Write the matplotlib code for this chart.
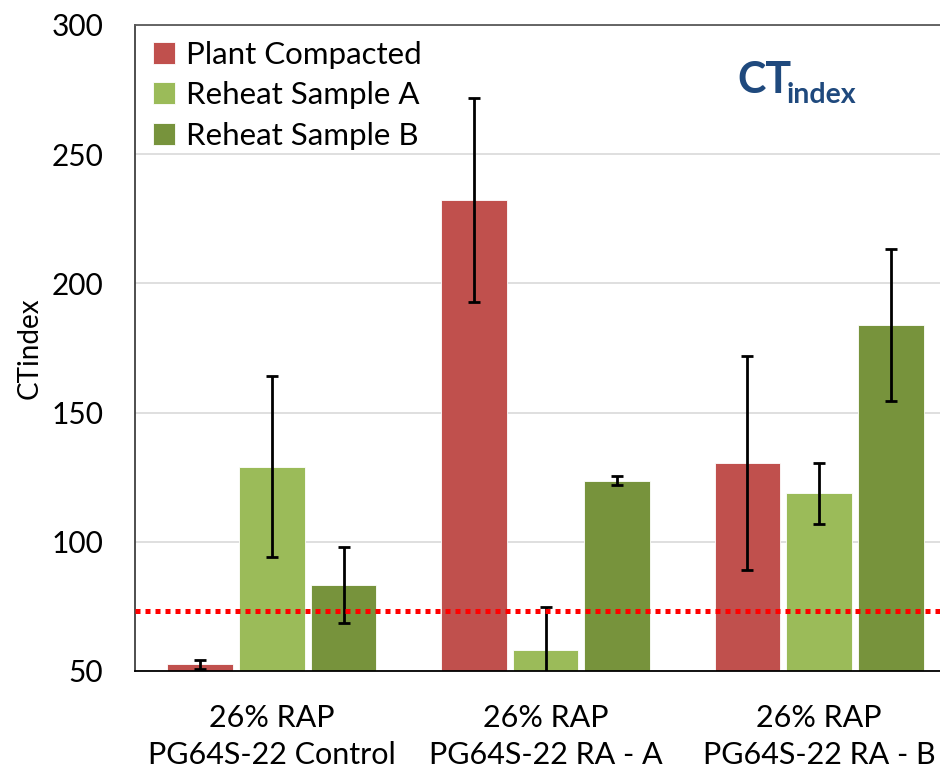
#!/usr/bin/python3

import numpy as np
import matplotlib
matplotlib.use('Agg')
import matplotlib.pyplot as plt

# chart data
categories = ["26% RAP\nPG64S-22 Control", "26% RAP\nPG64S-22 RA - A",
              "26% RAP\nPG64S-22 RA - B"]
series_names = ["Plant Compacted", "Reheat Sample A", "Reheat Sample B"]
plant = [52.6, 232.3, 130.5]
plant_err = [1.8, 39.5, 41.5]
reheat_a = [129.0, 58.1, 118.7]
reheat_a_err = [35.0, 16.6, 11.8]
reheat_b = [83.3, 123.7, 184.0]
reheat_b_err = [14.8, 1.7, 29.5]
threshold = 73.2
yticks = [50, 100, 150, 200, 250, 300]

def main():
    plt.rcParams['font.family'] = ['Lato', 'DejaVu Sans']
    colors = ["#C0504D", "#9BBB59", "#77933C"]

    fig = plt.figure(figsize=(9.4, 7.73), dpi=100)
    # axes run past the right edge, like the cropped original
    ax = fig.add_axes([135/940, 102/773, 821/940, 646/773])

    ind = np.arange(len(categories))
    width = 0.24
    offset = 0.262
    values = [plant, reheat_a, reheat_b]
    errors = [plant_err, reheat_a_err, reheat_b_err]

    handles = []
    for i in range(3):
        b = ax.bar(ind + (i - 1) * offset, values[i], width, color=colors[i],
                   edgecolor="white", linewidth=0.6, zorder=2,
                   label=series_names[i])
        ax.errorbar(ind + (i - 1) * offset, values[i], yerr=errors[i],
                    fmt="none", ecolor="black", elinewidth=2, capsize=4,
                    capthick=2, zorder=3)
        handles.append(b)

    # threshold line
    ax.axhline(threshold, color="#FF0000", linewidth=3.6,
               linestyle=(0, (1, 1)), dash_capstyle="butt", zorder=4)

    ax.set_xlim(-0.5, 2.5)
    ax.set_ylim(50, 300)
    ax.set_yticks(yticks)
    ax.set_xticks(ind)
    ax.set_xticklabels(categories, fontsize=22, linespacing=1.38)
    ax.tick_params(axis="y", length=0, pad=23, labelsize=21.5)
    ax.tick_params(axis="x", length=0, pad=24)
    ax.grid(axis="y", color="#D9D9D9", linewidth=1.2, zorder=0)
    ax.set_axisbelow(True)

    ax.spines["right"].set_visible(False)
    ax.spines["top"].set_color("#595959")
    ax.spines["left"].set_color("#404040")
    ax.spines["bottom"].set_color("black")
    for s in ax.spines.values():
        s.set_linewidth(1.3)

    ax.set_ylabel("CTindex", fontsize=20)
    ax.yaxis.set_label_coords(-0.113, 0.5)

    ax.legend(handles=handles, loc="upper left", bbox_to_anchor=(0.003, 1.0),
              frameon=False, fontsize=22.5, handlelength=0.7, handleheight=0.7,
              handletextpad=0.35, labelspacing=0.4, borderaxespad=0.1)

    # "CT index" title inside the plot
    fig.text(737/940, 1 - 93/773, "CT", fontsize=31, fontweight="bold",
             color="#1F497D", ha="left", va="baseline")
    fig.text(787/940, 1 - 103/773, "index", fontsize=20.5, fontweight="bold",
             color="#1F497D", ha="left", va="baseline")

    plt.savefig("out.png", dpi=100)

if __name__ == "__main__":
    main()
